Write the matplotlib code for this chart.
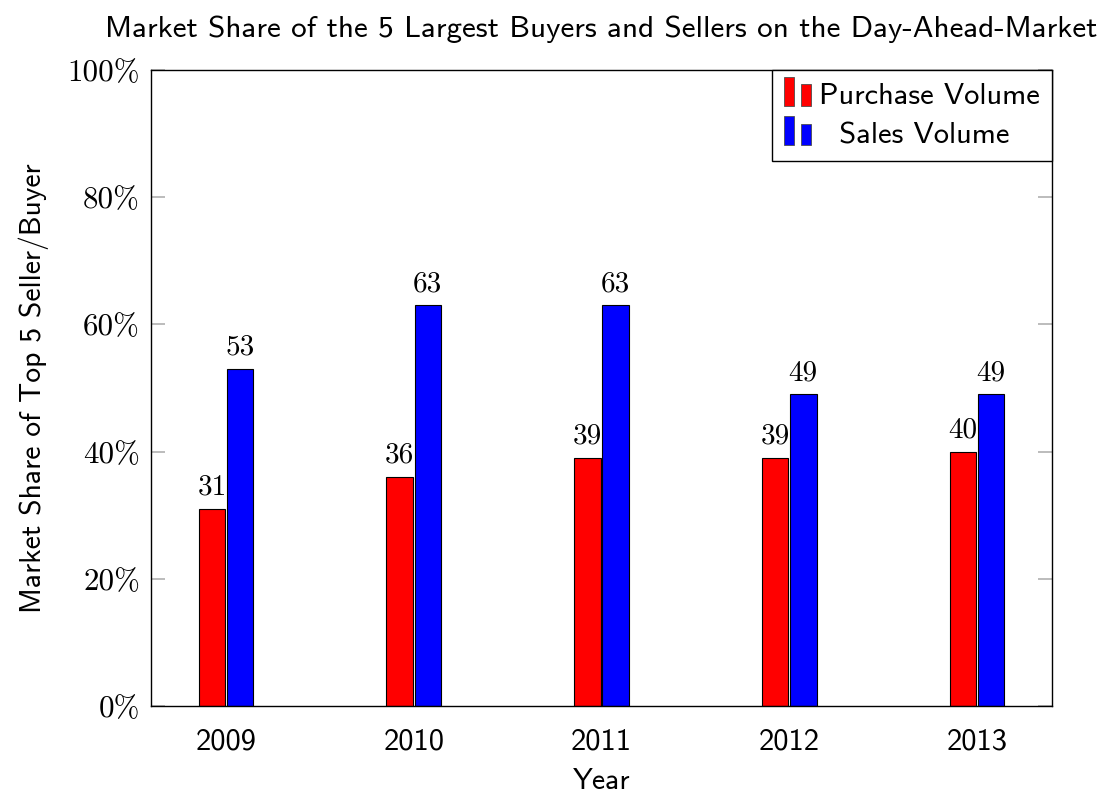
import numpy as np
import matplotlib
matplotlib.use("Agg")
import matplotlib.pyplot as plt
from matplotlib.patches import Rectangle
from matplotlib.legend_handler import HandlerBase

years = [2009, 2010, 2011, 2012, 2013]
purchase = [31, 36, 39, 39, 40]
sales = [53, 63, 63, 49, 49]
yticks = [0, 20, 40, 60, 80, 100]

SANS = "cmss10"
SERIF = "cmr10"


class TwoBarHandler(HandlerBase):
    """pgfplots-style ybar legend image: two small bars."""
    def create_artists(self, legend, orig, xd, yd, w, h, fontsize, trans):
        fc = orig.patches[0].get_facecolor()
        bw = w * 0.36
        r1 = Rectangle((xd + 0.0 * w, yd - 0.1 * h), bw, h * 1.35,
                       facecolor=fc, edgecolor="0.3", lw=0.6, transform=trans)
        r2 = Rectangle((xd + 0.58 * w, yd - 0.1 * h), bw, h * 1.0,
                       facecolor=fc, edgecolor="0.3", lw=0.6, transform=trans)
        return [r1, r2]


fig = plt.figure(figsize=(10.98, 7.93), dpi=100)
ax = fig.add_axes([151 / 1098, 1 - 706 / 793, (1052 - 151) / 1098, (706 - 70) / 793])

x = np.array(years, dtype=float)
bw = 0.142
off = 0.075
b1 = ax.bar(x - off, purchase, bw, color="#ff0000", edgecolor="black", linewidth=0.8,
            label="Purchase Volume")
b2 = ax.bar(x + off, sales, bw, color="#0000ff", edgecolor="black", linewidth=0.8,
            label="  Sales Volume")

for bars, vals in ((b1, purchase), (b2, sales)):
    for r, v in zip(bars, vals):
        ax.text(r.get_x() + r.get_width() / 2, v + 1.3, f"{v}", ha="center", va="bottom",
                fontsize=21, family=SERIF)

ax.set_xlim(2008.6, 2013.4)
ax.set_ylim(0, 100)
ax.set_xticks(years)
ax.set_xticklabels([str(y) for y in years], family=SANS, fontsize=22)
ax.set_yticks(yticks)
ax.set_yticklabels([f"{t}%" for t in yticks], family=SERIF, fontsize=22.3)
ax.tick_params(axis="y", direction="in", length=10, width=1.2, color="#b0b0b0",
               left=True, right=True, pad=8)
ax.tick_params(axis="x", length=0, pad=16)
for s in ax.spines.values():
    s.set_linewidth(1.0)

ax.set_xlabel("Year", family=SANS, fontsize=21.5, labelpad=9)
ax.set_ylabel("Market Share of Top 5 Seller/Buyer", family=SANS, fontsize=21.3, labelpad=13)
ax.set_title("Market Share of the 5 Largest Buyers and Sellers on the Day-Ahead-Market",
             family=SANS, fontsize=22.4, pad=24)

leg = ax.legend(handler_map={b1: TwoBarHandler(), b2: TwoBarHandler()},
                loc="upper right", prop={"family": SANS, "size": 22},
                frameon=True, fancybox=False, edgecolor="black", framealpha=1,
                borderaxespad=0, handlelength=0.95, handletextpad=0.2,
                borderpad=0.4, labelspacing=0.4)
leg.get_frame().set_linewidth(1.0)

fig.savefig("out.png", dpi=100)
